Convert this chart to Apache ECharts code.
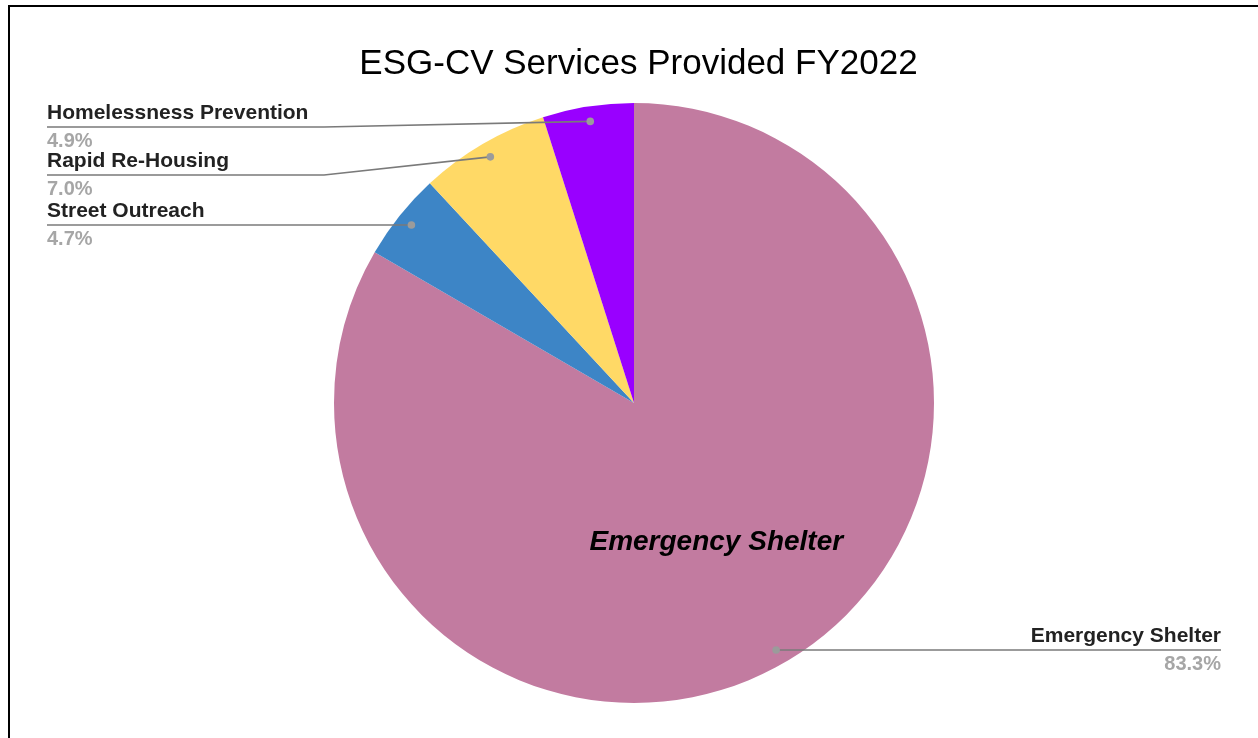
<!DOCTYPE html>
<html>
<head>
<meta charset="utf-8">
<script src="https://cdn.jsdelivr.net/npm/echarts@6/dist/echarts.min.js"></script>
<style>
  html, body { margin: 0; padding: 0; background: #fff; }
  #chart { position: absolute; left: 0; top: 0; width: 1258px; height: 738px; }
  #frame { position: absolute; left: 8px; top: 5px; right: -10px; bottom: -10px;
           border-top: 2px solid #000; border-left: 2px solid #000; pointer-events: none; }
</style>
</head>
<body>
<div id="chart"></div>
<div id="frame"></div>
<script>
// Services and their share of spending (percent)
const categories = ['Emergency Shelter', 'Street Outreach', 'Rapid Re-Housing', 'Homelessness Prevention'];
const shares = [83.3, 4.7, 7.0, 4.9];
const sliceColors = ['#c27ba0', '#3d85c6', '#ffd966', '#9900ff'];
const titleText = 'ESG-CV Services Provided FY2022';
const insideLabelFor = 'Emergency Shelter';

// Layout
const FONT = "'Liberation Sans', Arial, sans-serif";
const CX = 634, CY = 403, R = 300;
const ANCHOR_R = R * 0.95;
const LEFT_X = 47, RIGHT_X = 1221;
const ELBOW = 10;
const GAP = 48;
const TOP_LIMIT = CY - R + 24;

const total = shares.reduce((a, b) => a + b, 0);

// Anchor point for each slice's callout, at the slice's mid angle (clockwise from 12 o'clock)
let acc = 0;
const anchors = shares.map(v => {
  const mid = (acc + v / 2) / total * Math.PI * 2;
  acc += v;
  return {
    x: CX + ANCHOR_R * Math.sin(mid),
    y: CY - ANCHOR_R * Math.cos(mid),
    left: Math.sin(mid) < 0
  };
});

// Vertical position of each callout, pushed apart so labels do not overlap
const lineY = anchors.map(a => a.y);
[true, false].forEach(side => {
  const idx = anchors.map((a, i) => i)
    .filter(i => anchors[i].left === side)
    .sort((a, b) => anchors[a].y - anchors[b].y);
  let prev = -Infinity;
  idx.forEach(i => {
    const y = Math.max(anchors[i].y, TOP_LIMIT, prev + GAP);
    lineY[i] = y;
    prev = y;
  });
});

const pieData = categories.map((name, i) => ({
  name, value: shares[i], itemStyle: { color: sliceColors[i] }
}));

const calloutData = categories.map((name, i) => ({ name, value: shares[i] }));

const insideData = categories.map((name, i) => ({
  name, value: shares[i],
  label: { show: name === insideLabelFor }
}));

const basePie = {
  type: 'pie',
  center: [CX, CY],
  radius: R,
  startAngle: 90,
  clockwise: true,
  silent: true
};

const chart = echarts.init(document.getElementById('chart'), null, { renderer: 'canvas' });

chart.setOption({
  animation: false,
  backgroundColor: '#fff',
  title: {
    text: titleText,
    left: 633.5,
    top: 42,
    textAlign: 'center',
    textStyle: { fontSize: 35, fontWeight: 'normal', color: '#000', fontFamily: FONT }
  },
  series: [
    // coloured slices
    Object.assign({}, basePie, {
      z: 2,
      data: pieData,
      itemStyle: { borderWidth: 0 },
      label: { show: false },
      labelLine: { show: false }
    }),
    // callouts (name + percent) with leader lines, drawn above the slices
    Object.assign({}, basePie, {
      z: 5,
      data: calloutData,
      itemStyle: { color: 'rgba(0,0,0,0)' },
      label: {
        show: true,
        position: 'outer',
        formatter: p => `{n|${p.name}}\n{p|${p.value.toFixed(1)}%}`,
        rich: {
          n: { fontFamily: FONT, fontSize: 21, fontWeight: 'bold', color: '#222', lineHeight: 28 },
          p: { fontFamily: FONT, fontSize: 20, fontWeight: 'bold', color: '#a6a6a6', lineHeight: 28 }
        }
      },
      labelLine: {
        show: true,
        showAbove: true,
        length: 10,
        length2: 10,
        lineStyle: { color: '#7a7a7a', width: 1.6 }
      },
      labelLayout: params => {
        const i = params.dataIndex;
        const a = anchors[i];
        const y = lineY[i];
        const xEnd = a.left ? LEFT_X : RIGHT_X;
        const elbowX = a.left ? CX - R - ELBOW : CX + R + ELBOW;
        return {
          x: xEnd,
          y: y,
          align: a.left ? 'left' : 'right',
          verticalAlign: 'middle',
          labelLinePoints: [[a.x, a.y], [elbowX, y], [xEnd, y]]
        };
      }
    }),
    // name written inside the largest slice
    Object.assign({}, basePie, {
      z: 6,
      data: insideData,
      itemStyle: { color: 'rgba(0,0,0,0)' },
      label: {
        position: 'inside',
        offset: [6, 7],
        formatter: '{b}',
        fontFamily: FONT,
        fontSize: 28,
        fontWeight: 'bold',
        fontStyle: 'italic',
        color: '#000'
      },
      labelLine: { show: false }
    })
  ],
  graphic: anchors.map(a => ({
    type: 'circle',
    z: 100,
    silent: true,
    shape: { cx: a.x, cy: a.y, r: 3.8 },
    style: { fill: '#9b9b9b' }
  }))
});
</script>
</body>
</html>
